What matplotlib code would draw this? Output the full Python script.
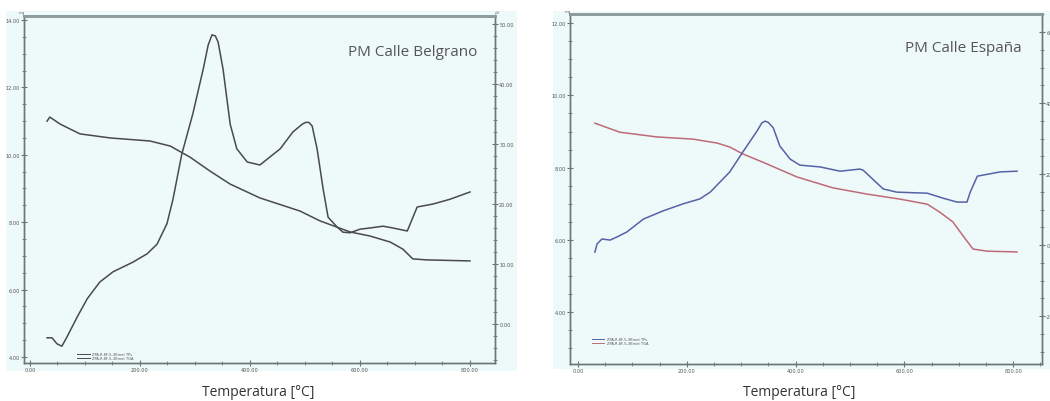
import matplotlib
matplotlib.use("Agg")
import matplotlib.pyplot as plt
from matplotlib.patches import Rectangle
from matplotlib.ticker import MultipleLocator, FormatStrFormatter

# ---------------- data ----------------
# Left panel: PM Calle Belgrano
bel_tg_T = [31, 36, 55, 91, 146, 218, 255, 291, 327, 364, 418, 491, 527, 582,
            618, 655, 678, 696, 722, 800]
bel_tg_mg = [11.00, 11.12, 10.91, 10.62, 10.50, 10.41, 10.26, 9.93, 9.52, 9.13,
             8.72, 8.33, 8.04, 7.71, 7.59, 7.41, 7.20, 6.91, 6.88, 6.85]

bel_dta_T = [31, 40, 49, 58, 67, 86, 104, 127, 151, 187, 213, 231, 249, 260,
             276, 296, 315, 324, 331, 337, 342, 351, 364, 376, 395, 418, 455,
             478, 495, 501, 507, 513, 522, 533, 542, 558, 569, 582, 600, 618,
             642, 660, 686, 695, 704, 733, 764, 800]
bel_dta_uv = [-2.3, -2.3, -3.3, -3.7, -2.2, 1.2, 4.2, 7.0, 8.7, 10.3, 11.7, 13.3,
              16.7, 20.8, 28.3, 35.0, 42.5, 46.5, 48.2, 48.0, 47.0, 42.5, 33.3,
              29.2, 27.0, 26.5, 29.2, 32.0, 33.3, 33.6, 33.6, 33.0, 29.2, 22.5,
              17.8, 16.2, 15.3, 15.2, 15.8, 16.0, 16.3, 16.0, 15.5, 17.5, 19.5,
              20.0, 20.8, 22.0]

# Right panel: PM Calle España
esp_tg_T = [31, 77, 145, 211, 256, 279, 303, 340, 403, 469, 531, 592, 642, 665,
            689, 708, 726, 752, 807]
esp_tg_mg = [9.23, 8.98, 8.85, 8.79, 8.68, 8.57, 8.38, 8.15, 7.74, 7.44, 7.27,
             7.13, 6.99, 6.77, 6.50, 6.11, 5.75, 5.69, 5.67]

esp_dta_T = [31, 35, 44, 59, 72, 90, 120, 156, 193, 224, 243, 279, 303, 329,
             338, 344, 350, 359, 371, 390, 408, 445, 482, 518, 524, 561, 586,
             642, 671, 697, 715, 721, 734, 776, 807]
esp_dta_uv = [-2.0, 0.3, 1.7, 1.4, 2.3, 3.7, 7.3, 9.6, 11.6, 13.0, 14.9, 20.6,
              26.2, 32.1, 34.4, 34.9, 34.5, 33.0, 27.9, 24.2, 22.5, 22.0, 20.8,
              21.4, 21.1, 15.8, 14.9, 14.6, 13.2, 12.1, 12.1, 14.9, 19.4, 20.6,
              20.8]

titles = ["PM Calle Belgrano", "PM Calle España"]
xlabel = "Temperatura [°C]"
legend_labels = ["ZPA-R-8F-5-3Kmet TPs", "ZPA-R-8F-5-3Kmet TGA"]

# ---------------- figure ----------------
W, H = 1050, 402
fig = plt.figure(figsize=(W / 100, H / 100), dpi=100)
fig.patch.set_facecolor("white")
BG = "#eef9fa"
SPINE = "#6a7676"


def frac_rect(x0, y0, x1, y1):
    return (x0 / W, 1 - y1 / H, (x1 - x0) / W, (y1 - y0) / H)


# panel backgrounds
for (x0, y0, x1, y1) in [(6, 12, 517, 372), (553, 12, 1050, 370)]:
    fig.patches.append(Rectangle((x0 / W, 1 - y1 / H), (x1 - x0) / W, (y1 - y0) / H,
                                 transform=fig.transFigure, facecolor=BG,
                                 edgecolor="none", zorder=-5))


def style_axes(ax, ax2, xmaj, xmin, lmaj, lmin, rmaj, rmin):
    for a in (ax, ax2):
        a.set_facecolor("none")
        for s in a.spines.values():
            s.set_color(SPINE)
            s.set_linewidth(1.0)
        a.spines["top"].set_linewidth(2.0)
        a.spines["top"].set_color("#8e9c9c")
    ax.xaxis.set_major_locator(MultipleLocator(xmaj))
    ax.xaxis.set_minor_locator(MultipleLocator(xmin))
    ax.yaxis.set_major_locator(MultipleLocator(lmaj))
    ax.yaxis.set_minor_locator(MultipleLocator(lmin))
    ax2.yaxis.set_major_locator(MultipleLocator(rmaj))
    ax2.yaxis.set_minor_locator(MultipleLocator(rmin))
    fmt = FormatStrFormatter("%.2f")
    ax.xaxis.set_major_formatter(fmt)
    ax.yaxis.set_major_formatter(fmt)
    ax2.yaxis.set_major_formatter(fmt)
    for a in (ax, ax2):
        a.tick_params(which="major", direction="inout", length=4, width=0.8,
                      color=SPINE, labelsize=3.6, labelcolor="#555555", pad=1)
        a.tick_params(which="minor", direction="inout", length=2.5, width=0.6,
                      color=SPINE)
    ax.tick_params(axis="x", top=False)


# ---------- left panel ----------
axL = fig.add_axes(frac_rect(24, 17, 495, 364))
axL2 = axL.twinx()
axL.set_xlim(-10.9, 845.5)
axL.set_ylim(3.82, 14.12)
axL2.set_ylim(-6.5, 51.33)
style_axes(axL, axL2, 200, 50, 2, 0.5, 10, 2)
axL2.plot(bel_dta_T, bel_dta_uv, color="#4a4a4a", lw=1.1, solid_joinstyle="round")
axL.plot(bel_tg_T, bel_tg_mg, color="#4a4a4a", lw=1.1, solid_joinstyle="round")
fig.text(348 / W, 1 - 52 / H, titles[0],
         fontsize=11, family="Open Sans", color="#555555", va="center", ha="left")
fig.text(258 / W, 1 - 393 / H, xlabel, fontsize=10, family="Open Sans",
         color="#333333", ha="center", va="center")
fig.text(22 / W, 1 - 13 / H, "mg", fontsize=2.8, color="#666666", ha="center", va="center")
fig.text(497 / W, 1 - 13 / H, "µV", fontsize=2.8, color="#666666", ha="center", va="center")

# legend (tiny)
for i, (lab, col) in enumerate(zip(legend_labels, ["#4a4a4a", "#4a4a4a"])):
    yy = 1 - (355 + 4 * i) / H
    fig.add_artist(plt.Line2D([77 / W, 90 / W], [yy, yy], color=col, lw=0.7,
                              transform=fig.transFigure))
    fig.text(92 / W, yy, lab, fontsize=2.6, color="#555555", va="center", ha="left")

# ---------- right panel ----------
axR = fig.add_axes(frac_rect(570, 15, 1042, 365))
axR2 = axR.twinx()
axR.set_xlim(-14.7, 852.9)
axR.set_ylim(2.57, 12.25)
axR2.set_ylim(-33.5, 65.07)
style_axes(axR, axR2, 200, 50, 2, 0.5, 20, 5)
axR2.plot(esp_dta_T, esp_dta_uv, color="#5563a6", lw=1.1, solid_joinstyle="round")
axR.plot(esp_tg_T, esp_tg_mg, color="#bf6a78", lw=1.1, solid_joinstyle="round")
fig.text(905 / W, 1 - 48 / H, titles[1], fontsize=11, family="Open Sans",
         color="#555555", va="center", ha="left")
fig.text(799 / W, 1 - 393 / H, xlabel, fontsize=10, family="Open Sans",
         color="#333333", ha="center", va="center")
fig.text(568 / W, 1 - 12 / H, "mg", fontsize=2.8, color="#666666", ha="center", va="center")

for i, (lab, col) in enumerate(zip(legend_labels, ["#5563a6", "#bf6a78"])):
    yy = 1 - (340 + 4 * i) / H
    fig.add_artist(plt.Line2D([592 / W, 604 / W], [yy, yy], color=col, lw=0.7,
                              transform=fig.transFigure))
    fig.text(607 / W, yy, lab, fontsize=2.6, color="#555555", va="center", ha="left")

fig.savefig("out.png", dpi=100, facecolor="white")
